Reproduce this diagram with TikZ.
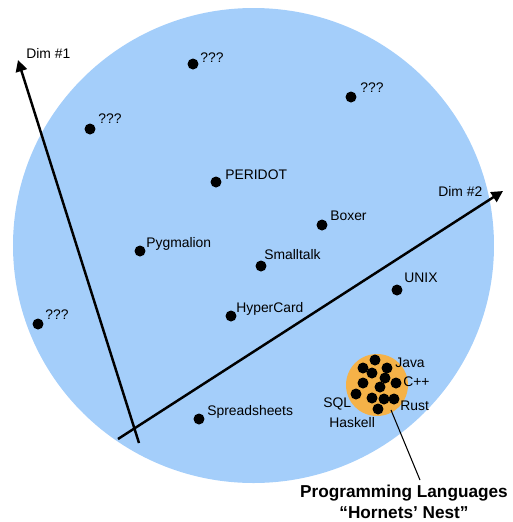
\documentclass[tikz,border=0pt]{standalone}
\usepackage{fontspec}
\setmainfont{Liberation Sans}
\usetikzlibrary{arrows.meta}

\definecolor{spaceblue}{RGB}{164,206,250}
\definecolor{nestorange}{RGB}{245,178,72}

\tikzset{
  dot/.style={shape=circle,fill=black,inner sep=0pt,minimum size=0.22cm},
  txt/.style={anchor=base west,inner sep=0pt,font=\fontsize{7.9}{9}\selectfont},
  dim/.style={line width=1.4pt,-{Triangle[length=6.5pt,width=6.5pt]}}
}

\begin{document}
\begin{tikzpicture}[x=0.02cm,y=-0.02cm]
\useasboundingbox (0,0) rectangle (512,522);

% the design space
\fill[spaceblue] (253.5,245.5) ellipse [x radius=240.5,y radius=237.5];

% axes
\coordinate (d1s) at (139,443);
\coordinate (d1e) at (18,60);
\coordinate (d2s) at (118,439);
\coordinate (d2e) at (503,191);
\draw[dim] (d1s) -- (d1e);
\draw[dim] (d2s) -- (d2e);
\node[txt] (dim1) at (26,58) {Dim \#1};
\node[txt] (dim2) at (438,196) {Dim \#2};

% systems
\node[dot] (q1) at (193,64) {};
\node[dot] (q2) at (351,97) {};
\node[dot] (q3) at (90,129) {};
\node[dot] (q4) at (38,324) {};
\node[dot] (peridot) at (216,182) {};
\node[dot] (boxer) at (322,225) {};
\node[dot] (pygmalion) at (140,251) {};
\node[dot] (smalltalk) at (261,266) {};
\node[dot] (unix) at (397,290) {};
\node[dot] (hypercard) at (231,316) {};
\node[dot] (spreadsheets) at (199,419) {};

\node[txt] (q1T) at (200,62) {???};
\node[txt] (q2T) at (360,92) {???};
\node[txt] (q3T) at (98,123) {???};
\node[txt] (q4T) at (45,319) {???};
\node[txt] (peridotT) at (225,179) {PERIDOT};
\node[txt] (boxerT) at (330,220) {Boxer};
\node[txt] (pygmalionT) at (146,247) {Pygmalion};
\node[txt] (smalltalkT) at (264,259) {Smalltalk};
\node[txt] (unixT) at (404,282) {UNIX};
\node[txt] (hypercardT) at (236,312) {HyperCard};
\node[txt] (spreadsheetsT) at (207,415) {Spreadsheets};

% hornets' nest
\node[shape=circle,fill=nestorange,minimum size=1.24cm,inner sep=0pt] (nestcirc) at (377,385) {};
\foreach \x/\y [count=\i] in {375/360,363/368,387/368,372/373,385/378,363/383,396/383,380/387,356/394,372/398,384/399,394/399,378/409}
  \node[dot] (c\i) at (\x,\y) {};

\node[txt] (javaT) at (395,367) {Java};
\node[txt] (cppT) at (403,386) {C++};
\node[txt] (rustT) at (400,410) {Rust};
\node[txt] (sqlT) at (323,407) {SQL};
\node[txt] (haskellT) at (329,427) {Haskell};

\node[align=center,inner sep=0pt,font=\fontsize{9.8}{11.8}\selectfont\bfseries] (nest) at (404,502)
  {Programming Languages\\“Hornets’ Nest”};
\coordinate (nestpt) at (391,410);
\coordinate (leadend) at (420,480);
\draw[line width=0.6pt] (nestpt) -- (leadend);
\end{tikzpicture}
\end{document}
